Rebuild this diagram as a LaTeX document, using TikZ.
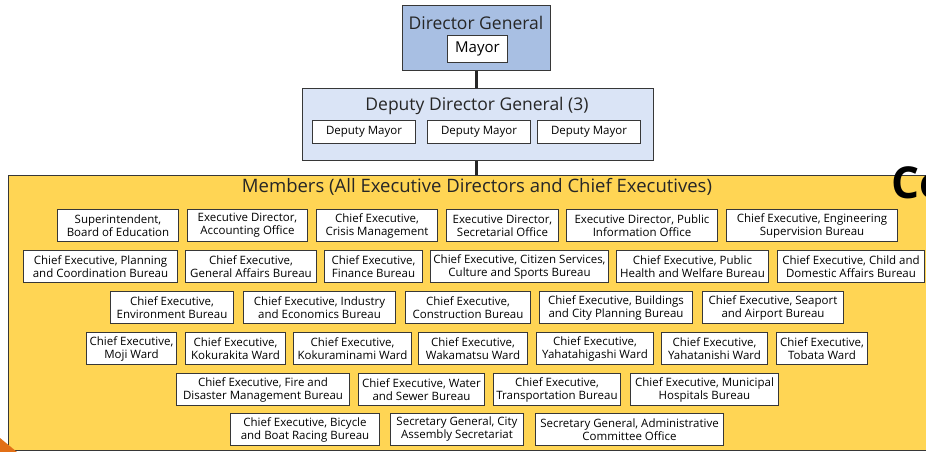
\documentclass[tikz,border=0pt]{standalone}
\usepackage{fontspec}
\setmainfont{Open Sans}
\usepackage{tikz}
\usetikzlibrary{positioning}
\definecolor{dgblue}{RGB}{168,191,227}
\definecolor{ddgblue}{RGB}{218,228,246}
\definecolor{membyellow}{RGB}{255,213,84}
\definecolor{boxline}{RGB}{55,55,55}
\definecolor{cornerorange}{RGB}{226,112,22}
\tikzset{
  post/.style={draw=boxline, fill=white, line width=1pt, align=center, inner sep=0pt,
    anchor=north west, minimum height=32pt, font=\fontsize{11.5}{13}\selectfont},
  group/.style={draw=boxline, line width=1pt, anchor=north west, inner sep=0pt},
  grouptitle/.style={font=\fontsize{17.5}{20}\selectfont, text=black!85},
  link/.style={draw=black!85, line width=2.5pt}
}

\begin{document}
\begin{tikzpicture}[x=1pt, y=-1pt]
\clip (0,0) rectangle (926,452);
\fill[white] (0,0) rectangle (926,452);
% top of the chart
\node[group, fill=dgblue, minimum width=148pt, minimum height=65pt] (dg) at (402,5) {};
\node[grouptitle] (dgtitle) at (476,23) {Director General};
\node[post, minimum width=60pt, minimum height=27pt, font=\fontsize{15}{17}\selectfont] (mayor) at (447,35) {Mayor};

\node[group, fill=ddgblue, minimum width=351pt, minimum height=72pt] (ddg) at (302,88) {};
\node[grouptitle] (ddgtitle) at (477,106) {Deputy Director General (3)};
\node[post, minimum width=103pt, minimum height=23pt, font=\fontsize{11.5}{13}\selectfont] (dm1) at (312,120) {Deputy Mayor};
\node[post, minimum width=103pt, minimum height=23pt, font=\fontsize{11.5}{13}\selectfont] (dm2) at (427,120) {Deputy Mayor};
\node[post, minimum width=103pt, minimum height=23pt, font=\fontsize{11.5}{13}\selectfont] (dm3) at (537,120) {Deputy Mayor};

\node[group, fill=membyellow, minimum width=940pt, minimum height=275pt] (members) at (8,175) {};
\node[grouptitle, font=\fontsize{18.5}{21}\selectfont] (membtitle) at (477,187) {Members (All Executive Directors and Chief Executives)};

\draw[link] (dg.south) -- (dg.south |- ddg.north);
\draw[link] (dg.south |- ddg.south) -- (dg.south |- members.north);

% row 1
\node[post, minimum width=121pt] (supt) at (57,209) {Superintendent,\\Board of Education};
\node[post, minimum width=120pt] (acct) at (187,209) {Executive Director,\\Accounting Office};
\node[post, minimum width=121pt] (crisis) at (316,209) {Chief Executive,\\Crisis Management};
\node[post, minimum width=112pt] (secr) at (446,209) {Executive Director,\\Secretarial Office};
\node[post, minimum width=151pt] (pubinfo) at (566,209) {Executive Director, Public\\Information Office};
\node[post, minimum width=171pt] (engsup) at (726,209) {Chief Executive, Engineering\\Supervision Bureau};
% row 2
\node[post, minimum width=154pt] (plan) at (23,250) {Chief Executive, Planning\\and Coordination Bureau};
\node[post, minimum width=131pt] (genaff) at (185,250) {Chief Executive,\\General Affairs Bureau};
\node[post, minimum width=98pt] (finance) at (324,250) {Chief Executive,\\Finance Bureau};
\node[post, minimum width=178pt] (citizen) at (430,250) {Chief Executive, Citizen Services,\\Culture and Sports Bureau};
\node[post, minimum width=152pt] (health) at (616,250) {Chief Executive, Public\\Health and Welfare Bureau};
\node[post, minimum width=147pt] (child) at (777,250) {Chief Executive, Child and\\Domestic Affairs Bureau};
% row 3
\node[post, minimum width=123pt] (env) at (110,291) {Chief Executive,\\Environment Bureau};
\node[post, minimum width=152pt] (industry) at (243,291) {Chief Executive, Industry\\and Economics Bureau};
\node[post, minimum width=125pt] (constr) at (405,291) {Chief Executive,\\Construction Bureau};
\node[post, minimum width=153pt] (building) at (539,291) {Chief Executive, Buildings\\and City Planning Bureau};
\node[post, minimum width=141pt] (seaport) at (702,291) {Chief Executive, Seaport\\and Airport Bureau};
% row 4 (wards)
\node[post, minimum width=90pt] (moji) at (86,332) {Chief Executive,\\Moji Ward};
\node[post, minimum width=100pt] (kokurakita) at (185,332) {Chief Executive,\\Kokurakita Ward};
\node[post, minimum width=118pt] (kokuraminami) at (293,332) {Chief Executive,\\Kokuraminami Ward};
\node[post, minimum width=109pt] (wakamatsu) at (418,332) {Chief Executive,\\Wakamatsu Ward};
\node[post, minimum width=117pt] (yhigashi) at (536,332) {Chief Executive,\\Yahatahigashi Ward};
\node[post, minimum width=106pt] (ynishi) at (661,332) {Chief Executive,\\Yahatanishi Ward};
\node[post, minimum width=91pt] (tobata) at (776,332) {Chief Executive,\\Tobata Ward};
% row 5
\node[post, minimum width=173pt] (fire) at (176,373) {Chief Executive, Fire and\\Disaster Management Bureau};
\node[post, minimum width=126pt] (water) at (358,373) {Chief Executive, Water\\and Sewer Bureau};
\node[post, minimum width=127pt] (transport) at (493,373) {Chief Executive,\\Transportation Bureau};
\node[post, minimum width=148pt] (hospital) at (630,373) {Chief Executive, Municipal\\Hospitals Bureau};
% row 6
\node[post, minimum width=149pt] (racing) at (230,413) {Chief Executive, Bicycle\\and Boat Racing Bureau};
\node[post, minimum width=133pt] (assembly) at (390,413) {Secretary General, City\\Assembly Secretariat};
\node[post, minimum width=188pt] (admin) at (535,413) {Secretary General, Administrative\\Committee Office};

% cut-off pieces at the edges
\node[anchor=west, inner sep=0pt, font=\bfseries\fontsize{44}{44}\selectfont] (cotext) at (891,183) {Co};
\fill[cornerorange] (0,438) -- (17,452) -- (0,452) -- cycle;
\end{tikzpicture}
\end{document}
